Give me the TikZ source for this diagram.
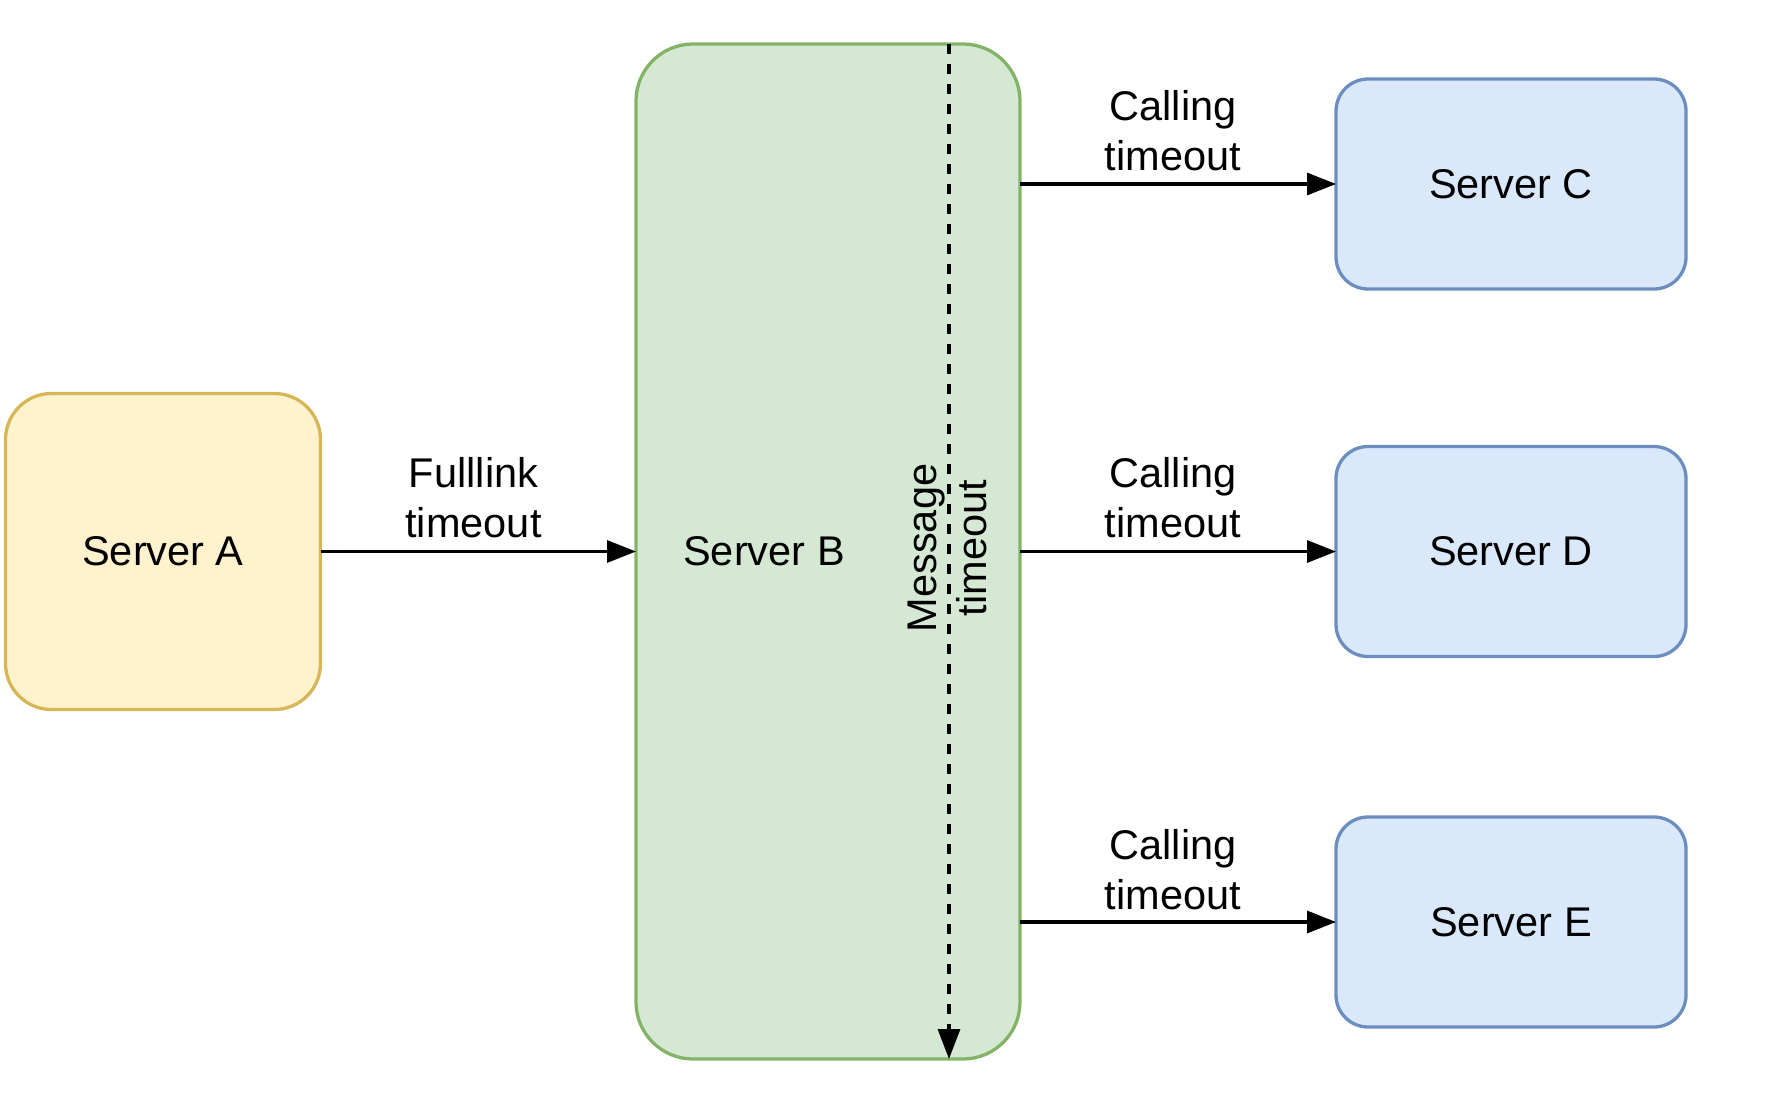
\documentclass[tikz,border=0pt]{standalone}
\usepackage{fontspec}
\setmainfont{Liberation Sans}
\usetikzlibrary{arrows.meta}
\definecolor{yfill}{HTML}{FFF2CC}
\definecolor{ydraw}{HTML}{D6B656}
\definecolor{gfill}{HTML}{D5E8D4}
\definecolor{gdraw}{HTML}{82B366}
\definecolor{bfill}{HTML}{DAE8FC}
\definecolor{bdraw}{HTML}{6C8EBF}
\tikzset{
  box/.style={draw, line width=3.3pt, outer sep=0pt, inner sep=0pt, font=\fontsize{41.5}{50}\selectfont},
  lbl/.style={inner sep=0pt, align=center, font=\fontsize{41.5}{50}\selectfont},
  arr/.style={line width=3.2pt, -{Triangle[length=29pt,width=22pt]}},
}
\begin{document}
\begin{tikzpicture}[x=1pt,y=-1pt]
\useasboundingbox (0,0) rectangle (1772,1114);
\node[box, fill=yfill, draw=ydraw, minimum width=315pt, minimum height=316pt, rounded corners=46pt] (A) at (163,551.5) {Server A};
\node[box, fill=gfill, draw=gdraw, minimum width=384pt, minimum height=1015pt, rounded corners=57pt] (B) at (828,551.5) {};
\node[lbl] (Bl) at (764,551.5) {Server B};
\node[box, fill=bfill, draw=bdraw, minimum width=350pt, minimum height=210pt, rounded corners=32pt] (C) at (1511,184) {Server C};
\node[box, fill=bfill, draw=bdraw, minimum width=350pt, minimum height=210pt, rounded corners=32pt] (D) at (1511,551.5) {Server D};
\node[box, fill=bfill, draw=bdraw, minimum width=350pt, minimum height=210pt, rounded corners=32pt] (E) at (1511,922) {Server E};
\coordinate (mt) at (949,44);
\coordinate (mb) at (949,1059);
\draw[line width=3.2pt, dash pattern=on 10pt off 10pt, -{Triangle[length=30pt,width=22pt]}] (mt) -- (mb);
\node[lbl, rotate=90] (M) at (947,548) {Message\\timeout};
\draw[arr] (A.east) -- (B.west);
\draw[arr] (B.east |- C.west) -- (C.west);
\draw[arr] (B.east |- D.west) -- (D.west);
\draw[arr] (B.east |- E.west) -- (E.west);
\node[lbl] (lf) at (473.5,498) {Fulllink\\timeout};
\node[lbl] (lc) at (1173,131) {Calling\\timeout};
\node[lbl] (ld) at (1173,498) {Calling\\timeout};
\node[lbl] (le) at (1173,870) {Calling\\timeout};
\end{tikzpicture}
\end{document}
